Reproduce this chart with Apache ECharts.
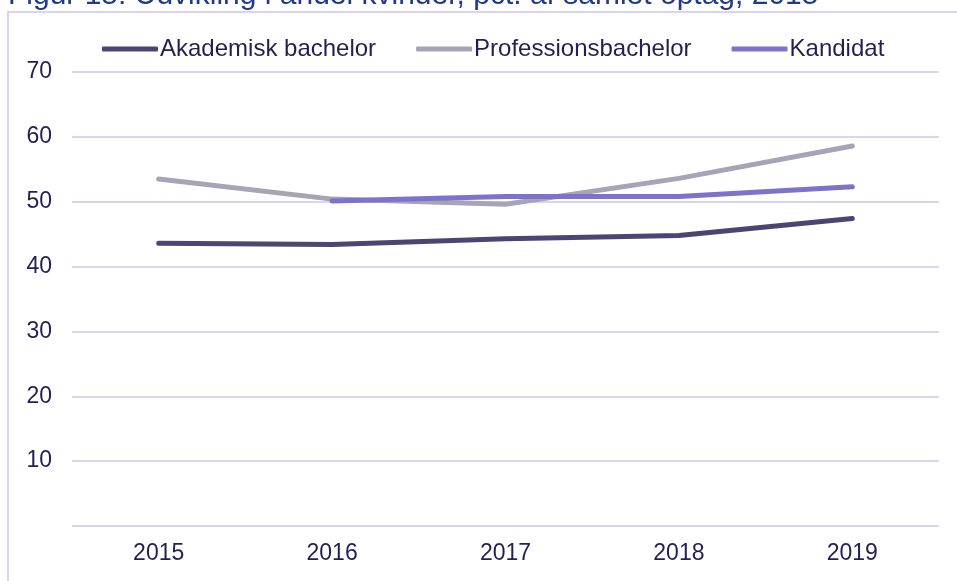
<!DOCTYPE html>
<html>
<head>
<meta charset="utf-8">
<script src="https://cdn.jsdelivr.net/npm/echarts@6/dist/echarts.min.js"></script>
<style>
    html, body { margin: 0; padding: 0; background: #fff; }
    #chart { width: 957px; height: 581px; }
</style>
</head>
<body>
<div id="chart"></div>
<script>
// data
var years = ['2015', '2016', '2017', '2018', '2019'];
var akademisk = [43.6, 43.4, 44.3, 44.8, 47.4];
var professions = [53.5, 50.4, 49.6, 53.6, 58.6];
var kandidat = ['-', 50.1, 50.8, 50.8, 52.3];
var seriesNames = ['Akademisk bachelor', 'Professionsbachelor', 'Kandidat'];

var textColor = '#231f52';
var gridColor = '#d9d5f0';
var font = 'Liberation Sans, Arial, sans-serif';

var myChart = echarts.init(document.getElementById('chart'));

// hjælper til linjeserier
function lineSerie(name, data, color) {
    return {
        name: name,
        type: 'line',
        data: data,
        symbol: 'none',
        smooth: false,
        lineStyle: { width: 5, color: color, cap: 'round', join: 'round' },
        itemStyle: { color: color }
    };
}

var option = {
    animation: false,
    backgroundColor: '#fff',
    title: {
        text: 'Figur 15: Udvikling i andel kvinder, pct. af samlet optag, 2015',
        left: 3,
        top: -24,
        textStyle: { color: '#1f3a8a', fontSize: 30, fontWeight: 'normal', fontFamily: font }
    },
    graphic: [{
        type: 'rect',
        shape: { x: 8, y: 12, width: 1000, height: 1000 },
        style: { fill: 'none', stroke: gridColor, lineWidth: 2 },
        silent: true
    }],
    legend: {
        top: 32,
        left: 97,
        icon: 'roundRect',
        itemWidth: 56,
        itemHeight: 5,
        itemGap: 40,
        data: seriesNames,
        textStyle: { color: textColor, fontSize: 24, fontFamily: font, padding: [0, 0, 0, -3] }
    },
    grid: { left: 72, right: 18, top: 72, bottom: 55, containLabel: false },
    xAxis: {
        type: 'category',
        data: years,
        boundaryGap: true,
        axisLine: { show: false },
        axisTick: { show: false },
        axisLabel: { color: textColor, fontSize: 23, fontFamily: font, margin: 16 }
    },
    yAxis: {
        type: 'value',
        min: 0,
        max: 70,
        interval: 10,
        axisLine: { show: false },
        axisTick: { show: false },
        axisLabel: {
            color: textColor, fontSize: 23, fontFamily: font, margin: 20,
            formatter: function (v) { return v === 0 ? '' : v; }
        },
        splitLine: { lineStyle: { color: gridColor, width: 2 } }
    },
    series: [
        lineSerie(seriesNames[0], akademisk, '#4b4573'),
        lineSerie(seriesNames[1], professions, '#a8a3b7'),
        lineSerie(seriesNames[2], kandidat, '#7b73cc')
    ]
};
myChart.setOption(option);
</script>
</body>
</html>
